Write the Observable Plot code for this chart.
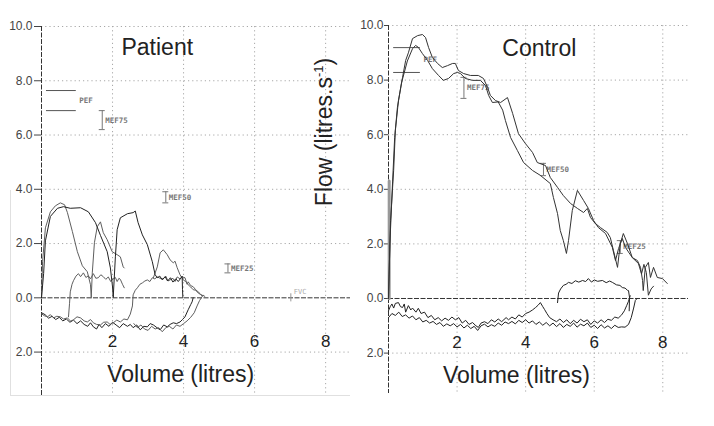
<!DOCTYPE html>
<html><head><meta charset="utf-8">
<script src="https://cdn.jsdelivr.net/npm/d3@7"></script>
<script src="https://cdn.jsdelivr.net/npm/@observablehq/plot@0.6"></script>
<style>
body{margin:0;background:#fff;}
#wrap{position:relative;width:714px;height:426px;overflow:hidden;font-family:"Liberation Sans",Arial,sans-serif;}
.panel{position:absolute;top:0;}
#ylab{position:absolute;left:324px;top:132px;transform:translate(-50%,-50%) rotate(-90deg);font-size:23px;white-space:nowrap;color:#222;line-height:1;}
#ylab sup{font-size:13px;vertical-align:9px;}
.fl{position:absolute;border-color:#e0e0e0;border-style:solid;border-width:0;}
</style></head><body>
<div id="wrap">
  <div class="fl" style="left:10px;top:190px;height:205px;border-left-width:1px;"></div>
  <div class="fl" style="left:10px;top:395px;width:340px;border-top-width:1px;"></div>
  <div class="panel" id="left" style="left:0"></div>
  <div class="panel" id="right" style="left:357px"></div>
  <div id="ylab">Flow (litres.s<sup>-1</sup>)</div>
</div>
<script>
// ---------- tick values ----------
const yTicks = [10, 8, 6, 4, 2, 0, -2];
const xTicks = [2, 4, 6, 8];
const yGrid = [10, 8, 6, 4, 2, -2];

// ---------- Patient curves [volume (l), flow (l/s)] ----------
const patientA = [[0,0],[0.03,1.33],[0.11,2.58],[0.25,3.17],[0.39,3.39],[0.53,3.5],[0.65,3.43],[0.73,3.14],[0.87,2.44],[1.01,1.7],[1.15,1.18],[1.29,0.96],[1.38,0.48],[1.4,0.04]];
const patientB = [[0,0],[0.06,0.9],[0.11,2.1],[0.25,3.0],[0.45,3.3],[0.62,3.36],[0.81,3.3],[1.1,3.32],[1.32,3.17],[1.52,2.77],[1.66,2.3],[1.85,1.7],[1.94,1.1],[2.0,0.4],[2.02,0.02]];
const patientC = [[1.4,0],[1.43,0.92],[1.49,2.03],[1.57,2.62],[1.66,2.8],[1.74,2.4],[1.85,2.14],[1.99,1.7],[2.13,1.59],[2.22,1.51],[2.3,1.14],[2.33,1.1]];
const patientD = [[0.76,-0.7],[0.79,-0.2],[0.81,0.22],[0.86,0.5],[0.9,0.63],[0.97,0.8],[1.04,0.89],[1.1,0.78],[1.18,0.92],[1.25,0.75],[1.32,0.81],[1.38,0.7],[1.46,0.89],[1.53,0.72],[1.6,0.74],[1.67,0.85],[1.74,0.78],[1.81,0.68],[1.88,0.77],[1.95,0.6],[2.02,0.7],[2.08,0.75],[2.13,0.6],[2.18,0.72],[2.22,0.68],[2.28,0.5],[2.33,0.37]];
const patientE = [[2.02,0.04],[2.08,1.51],[2.13,2.51],[2.22,2.95],[2.42,3.1],[2.58,3.14],[2.64,3.2],[2.72,2.77],[2.84,2.32],[2.98,1.96],[3.12,1.33],[3.2,0.85],[3.26,0.74],[3.33,0.8],[3.4,0.66],[3.48,0.78],[3.55,0.62],[3.63,0.74],[3.7,0.58],[3.78,0.7],[3.85,0.6],[3.92,0.72],[3.96,0.8],[3.97,0.3],[3.98,0.0]];
const patientF = [[3.15,0.74],[3.26,1.14],[3.34,1.66],[3.43,1.77],[3.54,1.59],[3.62,1.4],[3.71,1.29],[3.76,1.35],[3.82,1.11],[3.9,0.85],[3.99,0.66],[4.06,0.6],[4.13,0.48],[4.2,0.4],[4.27,0.3],[4.34,0.28],[4.41,0.18],[4.48,0.12],[4.55,0.08]];
const patientG = [[0,-0.59],[0.08,-0.66],[0.17,-0.7],[0.25,-0.62],[0.34,-0.74],[0.43,-0.68],[0.53,-0.7],[0.62,-0.78],[0.73,-0.74],[0.82,-0.86],[0.9,-0.81],[1.0,-0.7],[1.1,-0.74],[1.2,-0.85],[1.29,-0.89],[1.38,-0.8],[1.46,-0.92],[1.55,-0.98],[1.66,-1.0],[1.75,-0.9],[1.85,-0.89],[1.93,-0.98],[2.02,-0.92],[2.12,-0.82],[2.22,-0.89],[2.32,-0.78],[2.42,-0.81],[2.5,-0.6],[2.56,-0.3],[2.58,0.11],[2.64,0.28],[2.7,0.37],[2.77,0.5],[2.84,0.55],[2.91,0.62],[2.98,0.66],[3.05,0.6],[3.12,0.74],[3.19,0.7],[3.26,0.77],[3.34,0.72],[3.43,0.7],[3.5,0.8],[3.56,0.62],[3.62,0.66],[3.7,0.72],[3.76,0.6],[3.82,0.77],[3.9,0.7],[3.96,0.77],[4.04,0.74],[4.1,0.5],[4.13,0.59],[4.2,0.45],[4.27,0.41],[4.34,0.3],[4.41,0.22],[4.47,0.15],[4.52,0.07]];
const patientH = [[0,-0.55],[0.1,-0.62],[0.2,-0.75],[0.3,-0.68],[0.4,-0.8],[0.5,-0.72],[0.6,-0.85],[0.7,-0.78],[0.8,-0.9],[0.9,-0.82],[1.0,-0.95],[1.1,-0.85],[1.2,-0.98],[1.3,-1.05],[1.38,-0.92],[1.46,-1.07],[1.55,-1.15],[1.62,-0.98],[1.7,-1.1],[1.8,-0.95],[1.9,-1.05],[2.0,-0.9],[2.1,-1.0],[2.2,-1.1],[2.3,-0.95],[2.42,-1.05],[2.5,-0.98],[2.58,-1.1],[2.68,-1.0],[2.78,-1.18],[2.88,-1.05],[2.98,-1.07],[3.06,-0.95],[3.15,-1.0],[3.25,-1.1],[3.34,-1.18],[3.44,-1.0],[3.54,-1.07],[3.62,-0.98],[3.71,-0.92],[3.8,-0.95],[3.9,-0.89],[3.97,-0.8],[4.04,-0.7],[4.13,-0.44],[4.2,-0.25],[4.24,-0.15],[4.27,0]];
const patientI = [[2.6,-0.95],[2.7,-1.1],[2.8,-1.0],[2.9,-1.15],[3.0,-1.2],[3.1,-1.05],[3.2,-1.15],[3.3,-1.1],[3.4,-1.25],[3.5,-1.1],[3.6,-1.05],[3.7,-1.15],[3.8,-1.0],[3.9,-1.05],[4.0,-0.95],[4.1,-0.85],[4.2,-0.72],[4.3,-0.55],[4.38,-0.3],[4.45,-0.1],[4.5,0.0],[4.55,0.1],[4.6,0.05]];

// ---------- Control curves ----------
const controlOuter = [[0,0],[0.06,2.86],[0.15,4.69],[0.2,6.15],[0.29,7.25],[0.41,8.1],[0.5,8.72],[0.58,9.0],[0.7,9.52],[0.85,9.63],[0.99,9.67],[1.08,9.56],[1.17,9.19],[1.28,8.83],[1.43,8.61],[1.57,8.46],[1.72,8.53],[1.87,8.61],[1.95,8.61],[2.04,8.35],[2.19,8.24],[2.39,8.17],[2.62,8.17],[2.77,8.06],[2.89,7.73],[2.97,7.44],[3.12,7.25],[3.27,7.18],[3.47,7.36],[3.62,6.78],[3.79,6.04],[3.99,5.68],[4.2,5.35],[4.34,4.98],[4.58,4.87],[4.72,4.43],[4.93,4.07],[5.1,3.77],[5.31,3.48],[5.51,3.3],[5.69,3.15],[5.8,3.3],[5.89,2.97],[6.03,2.75],[6.18,2.6],[6.38,2.42],[6.47,2.23],[6.56,1.76],[6.68,1.14],[6.76,2.01],[6.85,2.38],[6.97,2.01],[7.11,1.5],[7.26,1.39],[7.35,1.14],[7.41,0.66],[7.43,0.29],[7.49,1.14],[7.58,1.32],[7.64,0.77],[7.73,1.14],[7.84,0.77],[7.99,0.73],[8.13,0.55]];
const controlInner = [[0,0],[0.04,2.0],[0.12,4.3],[0.18,5.9],[0.26,7.0],[0.38,7.9],[0.55,8.7],[0.7,9.15],[0.79,9.27],[0.87,9.2],[0.99,8.97],[1.14,8.72],[1.28,8.42],[1.46,8.17],[1.6,7.99],[1.75,8.06],[1.9,8.24],[2.01,8.28],[2.1,8.24],[2.24,8.06],[2.45,7.99],[2.68,7.99],[2.83,7.8],[2.92,7.44],[3.03,7.18],[3.2,7.2],[3.33,6.9],[3.41,6.52],[3.56,5.9],[3.76,5.42],[3.94,4.98],[4.2,4.69],[4.43,4.51],[4.72,4.21],[4.81,3.7],[4.93,3.11],[5.01,2.49],[5.1,2.12],[5.19,1.65],[5.25,2.12],[5.36,3.22],[5.51,3.96],[5.69,3.59],[5.83,3.3],[5.98,2.86],[6.12,2.6],[6.33,2.38],[6.53,1.87],[6.62,1.39],[6.71,1.83],[6.82,2.2],[6.91,1.87],[7.11,1.5],[7.29,1.28],[7.38,0.9],[7.45,1.25],[7.52,0.95],[7.58,0.12],[7.66,0.35],[7.73,0.45]];
const controlRise = [[0.02,0],[0.02,4.3]];
const controlNegA = [[0,-0.45],[0.05,-0.3],[0.1,-0.2],[0.15,-0.35],[0.2,-0.18],[0.29,-0.15],[0.35,-0.3],[0.41,-0.33],[0.46,-0.2],[0.5,-0.5],[0.58,-0.26],[0.65,-0.42],[0.7,-0.35],[0.8,-0.5],[0.87,-0.36],[0.95,-0.55],[1.05,-0.5],[1.15,-0.7],[1.25,-0.62],[1.35,-0.78],[1.45,-0.7],[1.55,-0.82],[1.65,-0.72],[1.75,-0.8],[1.85,-0.68],[1.95,-0.78],[2.05,-0.7],[2.15,-0.9],[2.25,-0.8],[2.35,-0.95],[2.45,-0.88],[2.55,-1.0],[2.62,-1.06],[2.7,-0.9],[2.8,-0.85],[2.9,-0.92],[3.0,-0.78],[3.1,-0.86],[3.2,-0.75],[3.3,-0.85],[3.43,-0.7],[3.5,-0.78],[3.6,-0.68],[3.7,-0.75],[3.8,-0.6],[3.9,-0.68],[4.0,-0.55],[4.1,-0.5],[4.2,-0.42],[4.29,-0.33],[4.36,-0.25],[4.43,-0.15],[4.5,-0.3],[4.55,-0.4],[4.62,-0.55],[4.7,-0.7],[4.8,-0.78],[4.9,-0.85],[5.0,-0.75],[5.1,-0.88],[5.2,-0.78],[5.3,-0.92],[5.4,-0.8],[5.5,-0.9],[5.6,-0.76],[5.7,-0.85],[5.8,-0.78],[5.9,-0.95],[6.0,-0.82],[6.1,-0.9],[6.2,-0.78],[6.3,-0.88],[6.4,-0.76],[6.5,-0.8],[6.6,-0.68],[6.7,-0.72],[6.8,-0.6],[6.88,-0.45],[6.95,-0.25],[7.0,-0.1],[7.05,0.1]];
const controlNegB = [[0,-0.7],[0.1,-0.55],[0.2,-0.62],[0.3,-0.5],[0.4,-0.66],[0.5,-0.6],[0.6,-0.72],[0.7,-0.64],[0.8,-0.78],[0.9,-0.7],[1.0,-0.86],[1.1,-0.8],[1.2,-0.9],[1.3,-0.84],[1.4,-0.95],[1.5,-0.88],[1.6,-1.02],[1.7,-0.93],[1.8,-1.0],[1.9,-0.92],[2.0,-1.04],[2.1,-0.95],[2.2,-1.08],[2.3,-0.98],[2.4,-1.1],[2.5,-1.02],[2.6,-1.17],[2.7,-1.0],[2.8,-0.94],[2.9,-1.04],[3.0,-0.96],[3.1,-1.02],[3.2,-0.9],[3.3,-0.98],[3.4,-0.86],[3.5,-0.92],[3.6,-0.84],[3.7,-0.93],[3.8,-0.8],[3.9,-0.88],[4.0,-0.78],[4.1,-0.9],[4.2,-0.82],[4.3,-0.95],[4.4,-0.86],[4.5,-0.98],[4.6,-0.88],[4.7,-1.0],[4.8,-0.9],[4.9,-1.03],[5.0,-0.92],[5.1,-1.06],[5.2,-0.95],[5.3,-1.02],[5.4,-0.9],[5.5,-1.05],[5.6,-0.94],[5.7,-1.0],[5.8,-0.9],[5.9,-1.06],[6.0,-0.98],[6.1,-1.1],[6.2,-0.96],[6.3,-1.08],[6.4,-1.0],[6.5,-1.1],[6.6,-0.98],[6.7,-1.06],[6.8,-1.04],[6.9,-1.05],[7.0,-0.95],[7.08,-0.7],[7.15,-0.35],[7.2,-0.07],[7.25,0]];
const controlReturn = [[4.93,-0.15],[4.96,0.2],[5.02,0.35],[5.1,0.48],[5.18,0.52],[5.25,0.59],[5.35,0.55],[5.45,0.65],[5.55,0.6],[5.66,0.66],[5.75,0.62],[5.83,0.73],[5.92,0.6],[6.0,0.68],[6.1,0.63],[6.24,0.66],[6.35,0.58],[6.45,0.64],[6.53,0.59],[6.65,0.5],[6.75,0.48],[6.82,0.4],[6.9,0.38],[6.97,0.3],[7.0,0.29],[7.03,0.04],[7.02,-0.45]];

// ---------- Predicted-value markers ----------
const patientPEF = {flows: [7.64, 6.9], from: 0.14, to: 0.98};
const patientMEF = [{name: "MEF75", v: 1.71, lo: 6.2, hi: 6.9}, {name: "MEF50", v: 3.5, lo: 3.5, hi: 3.91}, {name: "MEF25", v: 5.25, lo: 0.92, hi: 1.25}];
const patientFVC = 7.02;
const controlPEF = {flows: [9.19, 8.28], from: 0.15, to: 0.93};
const controlMEF = [{name: "MEF75", v: 2.2, lo: 7.33, hi: 8.1}, {name: "MEF50", v: 4.52, lo: 4.5, hi: 4.95}, {name: "MEF25", v: 6.76, lo: 1.65, hi: 2.12}];

const DARK = "#222", GRAY = "#5e5e5e";

function panel(cfg) {
  const {title, titlePos, volPos, xmax, ymin, mL, mR, mT, mB, tickLen, tickDx, curves, pef, mef, fvc} = cfg;
  const pxPerV = (357 - mL - mR) / xmax;
  const capW = 3 / pxPerV;
  const marks = [
    Plot.ruleX(xTicks, {stroke: "#a8a8a8", strokeDasharray: "1.2,3"}),
    Plot.ruleY(yGrid, {stroke: "#a8a8a8", strokeDasharray: "1.2,3"}),
    Plot.ruleX([0], {stroke: "#333", strokeDasharray: "5,1.5"}),
    Plot.ruleY([0], {stroke: "#333", strokeDasharray: "5,1.5"}),
    Plot.ruleY(yTicks, {x1: -tickLen / pxPerV, x2: 0, stroke: "#444"}),
    Plot.text(yTicks, {frameAnchor: "left", y: d => d, text: d => Math.abs(d).toFixed(1), textAnchor: "end", dx: tickDx, fontSize: 12, fill: "#444"}),
    Plot.text(xTicks, {x: d => d, y: -1.61, text: d => String(d), fontSize: 17, fill: DARK}),
    Plot.text(["Volume (litres)"], {x: volPos[0], y: volPos[1], text: d => d, fontSize: 23, fill: DARK}),
    Plot.text([title], {x: titlePos[0], y: titlePos[1], text: d => d, fontSize: 23, fill: DARK}),
    Plot.ruleY(pef.flows, {x1: pef.from, x2: pef.to, stroke: "#555"}),
    Plot.text(["PEF"], {x: pef.to, y: (pef.flows[0] + pef.flows[1]) / 2, text: d => d, textAnchor: "start", dx: 3, fontSize: 7.5, fontWeight: "bold", fontFamily: "DejaVu Sans Mono", fill: "#777"}),
    Plot.ruleX(mef, {x: "v", y1: "lo", y2: "hi", stroke: "#777"}),
    Plot.ruleY(mef, {y: "lo", x1: d => d.v - capW, x2: d => d.v + capW, stroke: "#777"}),
    Plot.ruleY(mef, {y: "hi", x1: d => d.v - capW, x2: d => d.v + capW, stroke: "#777"}),
    Plot.text(mef, {x: "v", y: d => (d.lo + d.hi) / 2, text: "name", textAnchor: "start", dx: 3, fontSize: 7.5, fontWeight: "bold", fontFamily: "DejaVu Sans Mono", fill: "#777"})
  ];
  if (fvc != null) {
    marks.push(Plot.ruleX([fvc], {y1: -0.15, y2: 0.15, stroke: "#999"}));
    marks.push(Plot.text(["FVC"], {x: fvc, y: 0.15, text: d => d, textAnchor: "start", dx: 3, dy: -2, fontSize: 7, fontFamily: "DejaVu Sans Mono", fill: "#aaa"}));
  }
  for (const c of curves) marks.push(Plot.line(c.data, {stroke: c.color, strokeWidth: c.w || 1}));
  return Plot.plot({
    width: 357, height: 426,
    marginLeft: mL, marginRight: mR, marginTop: mT, marginBottom: mB,
    x: {domain: [0, xmax], axis: null},
    y: {domain: [ymin, 10], axis: null},
    style: {background: "transparent", fontFamily: "Liberation Sans, Arial, sans-serif", overflow: "visible"},
    marks
  });
}

document.getElementById("left").appendChild(panel({
  title: "Patient", titlePos: [3.26, 9.22], volPos: [3.92, -2.84],
  xmax: 8.7, ymin: -3.6, mL: 41, mR: 7, mT: 26, mB: 31, tickLen: 7, tickDx: -9,
  pef: patientPEF, mef: patientMEF, fvc: patientFVC,
  curves: [
    {data: patientH, color: DARK}, {data: patientI, color: GRAY}, {data: patientG, color: GRAY},
    {data: patientD, color: GRAY}, {data: patientA, color: GRAY}, {data: patientC, color: GRAY},
    {data: patientF, color: GRAY}, {data: patientB, color: DARK}, {data: patientE, color: DARK}
  ]
}));

document.getElementById("right").appendChild(panel({
  title: "Control", titlePos: [4.4, 9.16], volPos: [3.73, -2.82],
  xmax: 8.75, ymin: -3.48, mL: 31, mR: 26, mT: 25, mB: 33, tickLen: 4, tickDx: -5,
  pef: controlPEF, mef: controlMEF, fvc: null,
  curves: [
    {data: controlRise, color: "#999", w: 3},
    {data: controlNegA, color: DARK}, {data: controlNegB, color: DARK}, {data: controlReturn, color: DARK},
    {data: controlInner, color: "#333"}, {data: controlOuter, color: "#333"}
  ]
}));
</script>
</body></html>
